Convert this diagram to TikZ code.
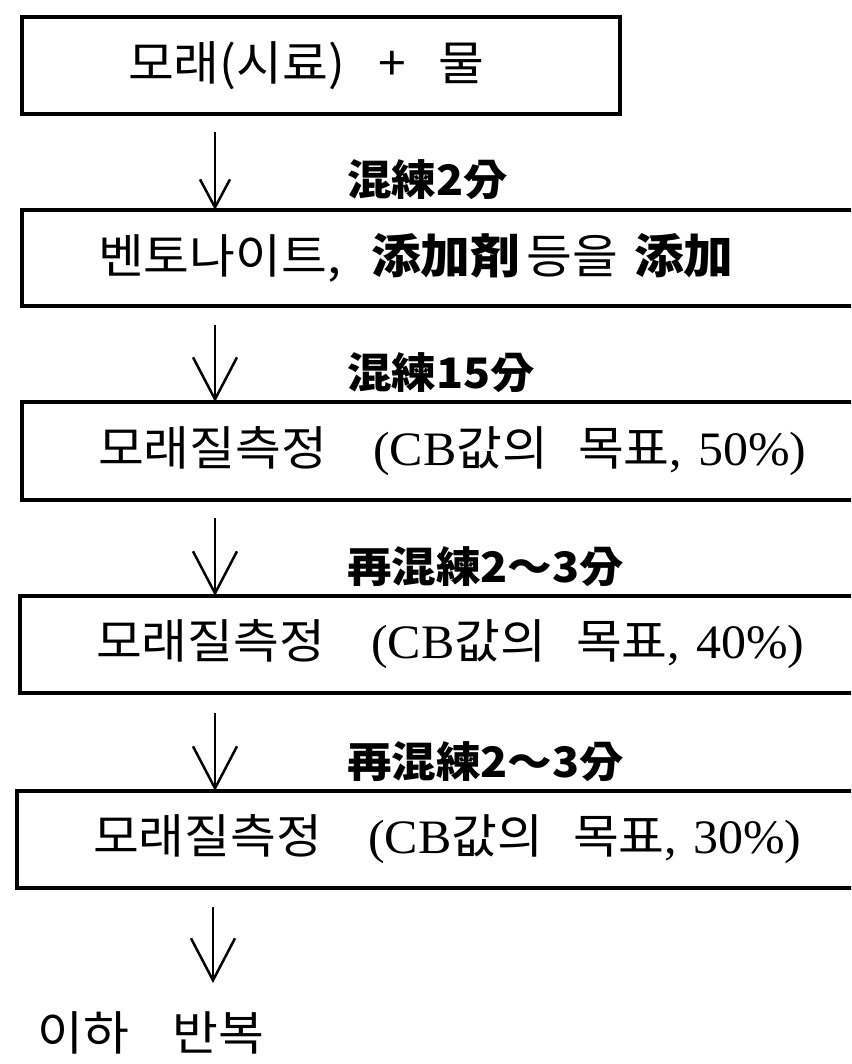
\documentclass[tikz,border=0pt]{standalone}
\usepackage{fontspec}
\setmainfont{Liberation Serif}
\newfontfamily\krfont[FakeStretch=1.06]{Noto Sans CJK KR}
\newfontfamily\serfont[FakeStretch=1.04]{Liberation Serif}
\usetikzlibrary{arrows.meta,calc}
\tikzset{
  box/.style={draw, line width=4pt, anchor=west, minimum height=97pt, inner ysep=0pt,
    align=left, outer sep=0pt, font=\krfont\fontsize{47}{50}\selectfont},
  widebox/.style={box, text width=760pt, inner xsep=76pt},
  lbl/.style={anchor=base west, inner sep=0pt, font=\krfont\bfseries\fontsize{42}{46}\selectfont},
  endtext/.style={anchor=base west, inner sep=0pt, font=\krfont\fontsize{47}{50}\selectfont},
  arr/.style={line width=2.5pt, -{Straight Barb[length=42pt,width=44pt]}},
  arrsmall/.style={line width=2.5pt, -{Straight Barb[length=28pt,width=30pt]}},
}
\newcommand{\lt}[1]{{\serfont\fontsize{48}{50}\selectfont #1}}
\begin{document}
\begin{tikzpicture}[x=1pt,y=-1pt]
\useasboundingbox (0,0) rectangle (851,1064);
\fill[white] (0,0) rectangle (851,1064);
\clip (0,0) rectangle (851,1064);

\node[box, text width=386pt, inner xsep=106pt] (b1) at (22,65.5)
  {모래(시료)\hspace{34pt}+\hspace{32pt}물};
\node[widebox, minimum height=96pt] (b2) at (22,258)
  {벤토나이트,\hspace{30pt}{\bfseries 添加剤}\hspace{6pt}등을\hspace{16pt}{\bfseries 添加}};
\node[widebox, minimum height=98pt] (b3) at (22,451)
  {모래질측정\hspace{46pt}\lt{(CB}값의\hspace{30pt}목표\lt{,\hspace{16pt}50\%)}};
\node[widebox] (b4) at (20,644.5)
  {모래질측정\hspace{46pt}\lt{(CB}값의\hspace{30pt}목표\lt{,\hspace{16pt}40\%)}};
\node[widebox] (b5) at (17,839.5)
  {모래질측정\hspace{46pt}\lt{(CB}값의\hspace{30pt}목표\lt{,\hspace{16pt}30\%)}};

\node[lbl] (l1) at (347,196) {混練2分};
\node[lbl] (l2) at (347,388) {混練15分};
\node[lbl] (l3) at (347,582) {再混練2～3分};
\node[lbl] (l4) at (347,777) {再混練2～3分};

\coordinate (ax) at (215,0);
\coordinate (fin) at (213,983);
\draw[arrsmall] ($(b1.south -| ax)+(0,18)$) -- (b2.north -| ax);
\draw[arr] ($(b2.south -| ax)+(0,19)$) -- (b3.north -| ax);
\draw[arr] ($(b3.south -| ax)+(0,18)$) -- (b4.north -| ax);
\draw[arr] ($(b4.south -| ax)+(0,20)$) -- (b5.north -| ax);
\draw[arr] ($(b5.south -| fin)+(0,19)$) -- (fin);

\node[endtext] (rep) at (37,1050) {이하\hspace{44pt}반복};
\end{tikzpicture}
\end{document}
